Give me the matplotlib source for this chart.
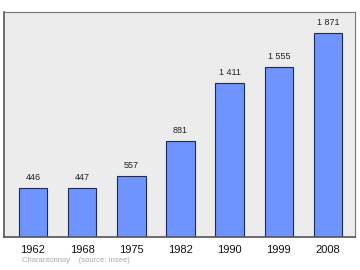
import matplotlib
matplotlib.use("Agg")
import matplotlib.pyplot as plt

years = ["1962", "1968", "1975", "1982", "1990", "1999", "2008"]
population = [446, 447, 557, 881, 1411, 1555, 1871]
labels = ["446", "447", "557", "881", "1 411", "1 555", "1 871"]

plt.rcParams['font.family'] = ['Liberation Sans', 'DejaVu Sans']

fig = plt.figure(figsize=(3.6, 2.7), dpi=100)
ax = fig.add_axes([0.011, 0.122, 0.975, 0.832])
ax.set_facecolor('#ececec')

x = range(len(years))
ax.bar(x, population, width=0.58, color='#7094ff', edgecolor='#1a2a5a', linewidth=0.8, zorder=2)
for i, v in enumerate(population):
    ax.text(i, v + 55, labels[i], ha='center', va='bottom', fontsize=6.5, color='#222222')

ax.set_xlim(-0.59, 6.55)
ax.set_ylim(0, 2058)
ax.set_yticks([])
ax.set_xticks(list(x))
ax.set_xticklabels(years, fontsize=8, color='#111111')
ax.tick_params(axis='x', length=0, pad=6)

for s in ['left', 'bottom']:
    ax.spines[s].set_color('#555555')
    ax.spines[s].set_linewidth(1.2)
for s in ['top', 'right']:
    ax.spines[s].set_color('#777777')
    ax.spines[s].set_linewidth(0.8)

fig.text(0.061, 0.028, "Charantonnay    (source: Insee)", fontsize=5.5, color='#aaaaaa')

fig.savefig("out.png", dpi=100)
